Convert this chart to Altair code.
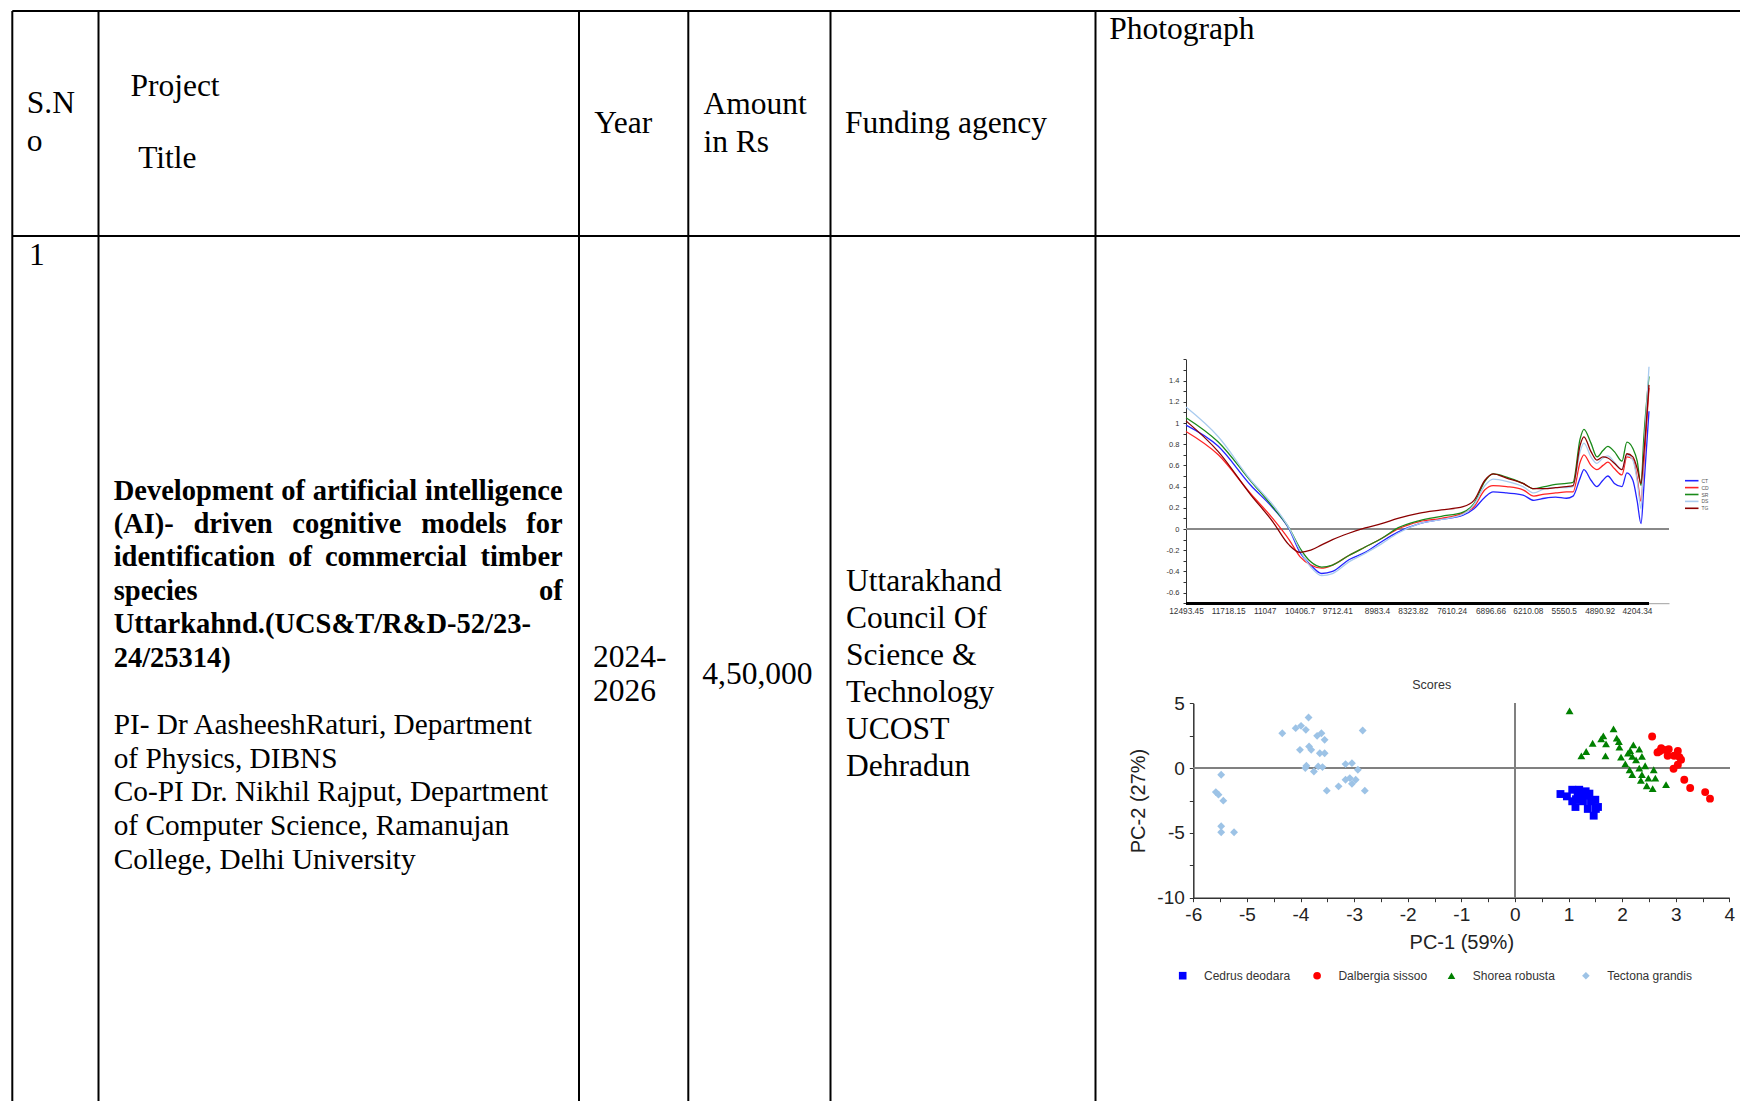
import altair as alt
import pandas as pd

# ---------------- data: NIR spectra (top chart) ----------------
wavenumber = [12493, 11900, 11300, 10900, 10600, 10400, 10200, 10000, 9800, 9500,
              9200, 8900, 8600, 8200, 7800, 7400, 7200, 7000, 6850, 6600,
              6300, 6100, 5900, 5700, 5500, 5380, 5250, 5180, 5050, 4940,
              4830, 4740, 4620, 4480, 4390, 4280, 4200, 4130, 4080, 3984]
spec_CT = [0.98, 0.78, 0.41, 0.20, 0.00, -0.22, -0.34, -0.42, -0.40, -0.29,
           -0.22, -0.12, -0.03, 0.05, 0.09, 0.13, 0.19, 0.30, 0.35, 0.34,
           0.32, 0.27, 0.29, 0.30, 0.29, 0.31, 0.48, 0.56, 0.46, 0.40,
           0.46, 0.50, 0.43, 0.40, 0.53, 0.46, 0.26, 0.05, 0.38, 1.11]
spec_CD = [0.92, 0.70, 0.33, 0.10, -0.10, -0.26, -0.34, -0.37, -0.34, -0.25,
           -0.17, -0.09, 0.00, 0.07, 0.10, 0.15, 0.21, 0.37, 0.41, 0.40,
           0.37, 0.31, 0.33, 0.34, 0.35, 0.35, 0.63, 0.70, 0.60, 0.56,
           0.60, 0.63, 0.57, 0.51, 0.68, 0.66, 0.48, 0.26, 0.60, 1.33]
spec_SR = [1.05, 0.82, 0.45, 0.21, 0.01, -0.18, -0.31, -0.36, -0.34, -0.25,
           -0.17, -0.09, 0.01, 0.08, 0.12, 0.16, 0.24, 0.45, 0.52, 0.49,
           0.43, 0.38, 0.40, 0.42, 0.43, 0.44, 0.85, 0.94, 0.81, 0.68,
           0.74, 0.78, 0.73, 0.64, 0.82, 0.76, 0.64, 0.41, 0.85, 1.44]
spec_DS = [1.15, 0.87, 0.46, 0.23, 0.01, -0.20, -0.36, -0.44, -0.42, -0.31,
           -0.23, -0.14, -0.04, 0.05, 0.09, 0.14, 0.23, 0.41, 0.47, 0.45,
           0.40, 0.34, 0.38, 0.39, 0.39, 0.40, 0.73, 0.81, 0.68, 0.62,
           0.67, 0.69, 0.63, 0.56, 0.70, 0.65, 0.45, 0.19, 0.70, 1.53]
spec_TG = [1.02, 0.73, 0.32, 0.07, -0.15, -0.22, -0.20, -0.15, -0.10, -0.04,
           0.01, 0.05, 0.10, 0.15, 0.18, 0.21, 0.27, 0.46, 0.52, 0.48,
           0.43, 0.38, 0.38, 0.39, 0.40, 0.41, 0.79, 0.87, 0.73, 0.65,
           0.68, 0.67, 0.62, 0.56, 0.71, 0.68, 0.57, 0.43, 0.70, 1.36]
spec_names = ["CT", "CD", "SR", "DS", "TG"]
spec_colors = ["#2424FF", "#FF2424", "#1A8A1A", "#A9CBEF", "#8B0000"]
spec_values = [spec_CT, spec_CD, spec_SR, spec_DS, spec_TG]
x_tick_labels = [12493.45, 11718.15, 11047, 10406.7, 9712.41, 8983.4, 8323.82,
                 7610.24, 6896.66, 6210.08, 5550.5, 4890.92, 4204.34]

# ---------------- data: PCA scores (bottom chart) ----------------
species = ["Cedrus deodara", "Dalbergia sissoo", "Shorea robusta", "Tectona grandis"]
species_shapes = ["square", "circle", "triangle-up", "diamond"]
species_colors = ["#0000FF", "#FF0000", "#008000", "#9DC3E6"]
cd_x = [0.85, 0.97, 1.07, 1.07, 1.13, 1.20, 1.24, 1.32, 1.36, 1.36, 1.42, 1.50, 1.51, 1.47, 1.39, 1.17, 1.27, 1.30, 1.14, 1.55]
cd_y = [-2.0, -2.18, -1.67, -2.56, -3.0, -1.67, -2.31, -1.79, -2.13, -3.15, -2.56, -2.44, -3.15, -3.67, -1.97, -2.13, -2.56, -2.0, -2.4, -3.0]
ds_x = [2.56, 2.73, 2.66, 2.87, 3.04, 2.85, 2.97, 3.10, 3.04, 2.96, 3.16, 3.27, 3.55, 3.64, 2.79, 3.07, 2.70]
ds_y = [2.44, 1.54, 1.21, 1.46, 1.33, 0.95, 0.95, 0.64, 0.26, -0.05, -0.90, -1.54, -1.85, -2.36, 1.41, 0.85, 1.30]
sr_x = [1.02, 1.84, 1.65, 1.61, 1.70, 1.45, 1.33, 1.24, 1.69, 1.90, 1.94, 1.95, 1.98, 2.11, 2.15, 2.21, 2.19,
        2.32, 2.37, 2.06, 2.14, 2.19, 2.32, 2.43, 2.37, 2.59, 2.49, 2.62, 2.35, 2.46, 2.57, 2.82, 2.26]
sr_y = [4.41, 3.03, 2.49, 2.26, 1.87, 1.92, 1.28, 0.95, 0.95, 2.31, 2.05, 1.62, 0.85, 1.15, 1.36, 1.79, 0.90,
        1.46, 0.90, 0.33, -0.13, -0.51, 0.0, 0.18, -0.51, -0.13, -0.77, -0.77, -0.95, -1.36, -1.59, -1.28, 0.64]
tg_x = [-5.48, -5.58, -5.53, -5.44, -5.48, -5.48, -5.24, -4.34, -4.09, -3.99, -3.90, -3.85, -4.01, -3.84, -3.80,
        -3.69, -3.61, -3.55, -3.64, -3.55, -3.89, -3.91, -3.75, -3.67, -3.59, -3.51, -3.29, -3.16, -3.04, -2.93,
        -3.16, -3.08, -2.97, -3.04, -2.84, -2.80]
tg_y = [-0.51, -1.85, -2.05, -2.51, -4.49, -4.95, -4.95, 2.69, 3.08, 3.26, 2.95, 3.90, 1.41, 1.67, 1.41,
        2.49, 2.69, 2.18, 1.15, 1.15, 0.18, 0.0, -0.26, 0.13, 0.08, -1.74, -1.41, 0.31, 0.38, -0.13,
        -0.90, -0.77, -0.90, -1.21, 2.90, -1.74]
scores = [(cd_x, cd_y), (ds_x, ds_y), (sr_x, sr_y), (tg_x, tg_y)]

# ---------------- table text ----------------
header_cells = [("S.N", 26.8, 103.7), ("o", 26.8, 141.6), ("Project", 130.4, 87.0), ("Title", 138.2, 159.4),
                ("Year", 594.2, 123.7), ("Amount", 703.4, 104.8), ("in Rs", 703.4, 142.7),
                ("Funding agency", 845.0, 123.7), ("Photograph", 1109.2, 30.1)]
body_cells = [("1", 29.0, 256.4), ("2024-", 593.0, 657.7), ("2026", 593.0, 692.3), ("4,50,000", 702.3, 674.5)]
agency_lines = ["Uttarakhand", "Council Of", "Science &", "Technology", "UCOST", "Dehradun"]
title_lines = ["Development of artificial intelligence", "(AI)- driven cognitive models for",
               "identification of commercial timber", "species of",
               "Uttarkahnd.(UCS&T/R&D-52/23-", "24/25314)"]
justified = [True, True, True, True, False, False]
people_lines = ["PI- Dr AasheeshRaturi, Department", "of Physics, DIBNS",
                "Co-PI Dr. Nikhil Rajput, Department", "of Computer Science, Ramanujan",
                "College, Delhi University"]

# ---------------- layout (image pixels) ----------------
W, H = 1732, 1093          # plot area = page minus 8px margins
M = 8
col_edges = [12.3, 98.5, 579.0, 688.3, 830.5, 1095.5]
row_edges = [11.0, 236.0]
SERIF, SANS = "Liberation Serif", "Liberation Sans"
HEAD_SIZE, BOLD_SIZE, REG_SIZE = 31.5, 28.5, 29.3
TITLE_X0, TITLE_X1 = 113.7, 562.7

TNR_BOLD = {' ': 250, '(': 333, ')': 333, '-': 333, 'A': 722, 'I': 389, 'D': 722, 'a': 500, 'b': 556,
            'c': 444, 'd': 556, 'e': 444, 'f': 333, 'g': 500, 'h': 556, 'i': 278, 'l': 278, 'm': 833,
            'n': 556, 'o': 500, 'p': 556, 'r': 444, 's': 389, 't': 333, 'v': 500}


def bold_width(word):
    return sum(TNR_BOLD[c] for c in word) / 1000 * BOLD_SIZE


tx = alt.Scale(domain=[M, W + M], range=[0, W], zero=False, nice=False)
ty = alt.Scale(domain=[M, H + M], range=[0, H], zero=False, nice=False)

# table rules
rules = []
for c in col_edges:
    rules.append({"x": c, "x2": c, "y": row_edges[0], "y2": H + M})
for r in row_edges:
    rules.append({"x": col_edges[0], "x2": W + M, "y": r, "y2": r})
rules_df = pd.DataFrame(rules)
table_rules = alt.Chart(rules_df).mark_rule(color="black", strokeWidth=2).encode(
    x=alt.X("x:Q", scale=tx, axis=None), x2="x2:Q",
    y=alt.Y("y:Q", scale=ty, axis=None), y2="y2:Q")

reg_rows = [{"text": t, "x": x, "y": y, "size": HEAD_SIZE} for t, x, y in header_cells + body_cells]
for i, t in enumerate(agency_lines):
    reg_rows.append({"text": t, "x": 846.1, "y": 582.0 + 37.0 * i, "size": HEAD_SIZE})
for i, t in enumerate(people_lines):
    reg_rows.append({"text": t, "x": TITLE_X0, "y": 725.0 + 33.7 * i, "size": REG_SIZE})

bold_rows = []
for i, line in enumerate(title_lines):
    y = 490.5 + 33.4 * i
    words = line.split(" ")
    if justified[i] and len(words) > 1:
        widths = [bold_width(w) for w in words]
        gap = (TITLE_X1 - TITLE_X0 - sum(widths)) / (len(words) - 1)
        xpos = TITLE_X0
        for w, wd in zip(words, widths):
            bold_rows.append({"text": w, "x": xpos, "y": y, "size": BOLD_SIZE})
            xpos += wd + gap
    else:
        bold_rows.append({"text": line, "x": TITLE_X0, "y": y, "size": BOLD_SIZE})


def text_layer(rows, weight, font=SERIF, align="left", color="black"):
    return alt.Chart(pd.DataFrame(rows)).mark_text(
        align=align, baseline="middle", font=font, fontWeight=weight, color=color).encode(
        x=alt.X("x:Q", scale=tx, axis=None), y=alt.Y("y:Q", scale=ty, axis=None),
        text="text:N", size=alt.Size("size:Q", scale=None, legend=None))


table = alt.layer(
    table_rules,
    text_layer(reg_rows, "normal"),
    text_layer(bold_rows, "bold"),
    text_layer([{"text": "Scores", "x": 1431.7, "y": 685.0, "size": 12.5}], "normal", SANS, "center", "#333"),
)

# ---------------- line chart ----------------
spec_rows = []
for name, vals in zip(spec_names, spec_values):
    for wn, v in zip(wavenumber, vals):
        spec_rows.append({"wn": wn, "value": v, "series": name})
spec_df = pd.DataFrame(spec_rows)

L_XDOM = [3616, 12493.45]
lx = alt.Scale(domain=L_XDOM, range=[1669 - M, 1186 - M], zero=False, nice=False)
ly = alt.Scale(domain=[-0.7, 1.6], range=[603.2 - M, 359.4 - M], zero=False, nice=False)
y_ticks = [round(-0.7 + 0.1 * i, 1) for i in range(24)]

x_axis_l = alt.Axis(orient="bottom", offset=-(H - (603.2 - M)), values=x_tick_labels,
                    labelExpr="'' + datum.value", ticks=False, grid=False, title=None,
                    domainColor="#A0A0A0", domainWidth=1, labelColor="#333", labelFont=SANS,
                    labelFontSize=8.3, labelPadding=3, labelOverlap=False, labelBound=False,
                    labelFlush=False)
y_axis_l = alt.Axis(orient="left", offset=-(1186 - M), values=y_ticks,
                    labelExpr="(round(datum.value*10) % 2 == 0 && datum.value >= -0.65 && datum.value <= 1.45) ? '' + datum.value : ''",
                    tickSize=3, tickColor="#333", grid=False, title=None, domainColor="#333",
                    labelColor="#333", labelFont=SANS, labelFontSize=7.5, labelPadding=4,
                    labelOverlap=False, labelBound=False, labelFlush=False)

zero_l = alt.Chart(spec_df).mark_rule(color="#888888", strokeWidth=1).encode(
    x=alt.datum(L_XDOM[1], scale=lx, axis=x_axis_l), x2=alt.datum(L_XDOM[0]),
    y=alt.datum(0, scale=ly, axis=y_axis_l))
base_l = alt.Chart(spec_df).mark_rule(color="black", strokeWidth=2).encode(
    x=alt.datum(max(wavenumber)), x2=alt.datum(min(wavenumber)), y=alt.datum(-0.7))
lines = alt.Chart(spec_df).mark_line(strokeWidth=1.3, interpolate="monotone").encode(
    x=alt.X("wn:Q"), y=alt.Y("value:Q"),
    color=alt.Color("series:N", scale=alt.Scale(domain=spec_names, range=spec_colors), legend=None))
line_chart = alt.layer(zero_l, base_l, lines)

# line chart legend
leg_rows = [{"series": n, "x": 1685.0, "x2": 1698.5, "xt": 1701.5, "y": 480.7 + 6.9 * i}
            for i, n in enumerate(spec_names)]
leg_df = pd.DataFrame(leg_rows)
line_legend = alt.layer(
    alt.Chart(leg_df).mark_rule(strokeWidth=1.6).encode(
        x=alt.X("x:Q", scale=tx, axis=None), x2="x2:Q", y=alt.Y("y:Q", scale=ty, axis=None),
        color=alt.Color("series:N", scale=alt.Scale(domain=spec_names, range=spec_colors), legend=None)),
    alt.Chart(leg_df).mark_text(align="left", baseline="middle", font=SANS, fontSize=5, color="#555").encode(
        x="xt:Q", y="y:Q", text="series:N"),
)

# ---------------- scatter chart ----------------
sc_rows = []
for name, (xs, ys) in zip(species, scores):
    for a, b in zip(xs, ys):
        sc_rows.append({"pc1": a, "pc2": b, "species": name})
sc_df = pd.DataFrame(sc_rows)

sx = alt.Scale(domain=[-6, 4], range=[1193.3 - M, 1729.3 - M], zero=False, nice=False)
sy = alt.Scale(domain=[-10, 5], range=[897.7 - M, 703.3 - M], zero=False, nice=False)
x_axis_s = alt.Axis(orient="bottom", offset=-(H - (897.7 - M)), values=[-6 + 0.5 * i for i in range(21)],
                    labelExpr="datum.value % 1 == 0 ? '' + datum.value : ''", tickSize=4,
                    tickColor="#333", domainColor="#333", domainWidth=1.5, grid=False,
                    title="PC-1 (59%)", titleFont=SANS, titleFontSize=20, titleFontWeight="normal",
                    titleColor="#222", titlePadding=8, labelColor="#222", labelFont=SANS,
                    labelFontSize=19, labelPadding=4, labelOverlap=False, labelBound=False, labelFlush=False)
y_axis_s = alt.Axis(orient="left", offset=-(1193.3 - M), values=[-10, -7.5, -5, -2.5, 0, 2.5, 5],
                    labelExpr="datum.value % 5 == 0 ? '' + datum.value : ''", tickSize=4,
                    tickColor="#333", domainColor="#333", domainWidth=1.5, grid=False,
                    title="PC-2 (27%)", titleFont=SANS, titleFontSize=20, titleFontWeight="normal",
                    titleColor="#222", titlePadding=8, labelColor="#222", labelFont=SANS,
                    labelFontSize=19, labelPadding=5, labelOverlap=False, labelBound=False, labelFlush=False)

sh_scale = alt.Scale(domain=species, range=species_shapes)
co_scale = alt.Scale(domain=species, range=species_colors)
zero_sv = alt.Chart(sc_df).mark_rule(color="#808080", strokeWidth=1).encode(
    x=alt.datum(0, scale=sx, axis=x_axis_s), y=alt.datum(-10, scale=sy, axis=y_axis_s), y2=alt.datum(5))
zero_sh = alt.Chart(sc_df).mark_rule(color="#808080", strokeWidth=1).encode(
    x=alt.datum(-6), x2=alt.datum(4), y=alt.datum(0))
points = alt.Chart(sc_df).mark_point(filled=True, opacity=1, size=62, strokeWidth=0).encode(
    x=alt.X("pc1:Q"), y=alt.Y("pc2:Q"),
    shape=alt.Shape("species:N", scale=sh_scale, legend=None),
    color=alt.Color("species:N", scale=co_scale, legend=None))
scatter = alt.layer(zero_sv, zero_sh, points)

# scatter legend
sleg_df = pd.DataFrame([{"species": n, "x": 1182.7 + 134.4 * i, "xt": 1204.0 + 134.4 * i, "y": 975.7}
                        for i, n in enumerate(species)])
scatter_legend = alt.layer(
    alt.Chart(sleg_df).mark_point(filled=True, opacity=1, size=58, strokeWidth=0).encode(
        x=alt.X("x:Q", scale=tx, axis=None), y=alt.Y("y:Q", scale=ty, axis=None),
        shape=alt.Shape("species:N", scale=sh_scale, legend=None),
        color=alt.Color("species:N", scale=co_scale, legend=None)),
    alt.Chart(sleg_df).mark_text(align="left", baseline="middle", font=SANS, fontSize=12, color="#333").encode(
        x="xt:Q", y="y:Q", text="species:N"),
)

chart = alt.layer(table, line_chart, scatter, line_legend, scatter_legend).resolve_scale(
    x="independent", y="independent", color="independent", shape="independent"
).properties(
    width=W, height=H, autosize=alt.AutoSizeParams(type="none"), padding=0, background="white"
).configure_view(stroke=None)

chart.save("out.html", embed_options={"renderer": "svg", "actions": False})
